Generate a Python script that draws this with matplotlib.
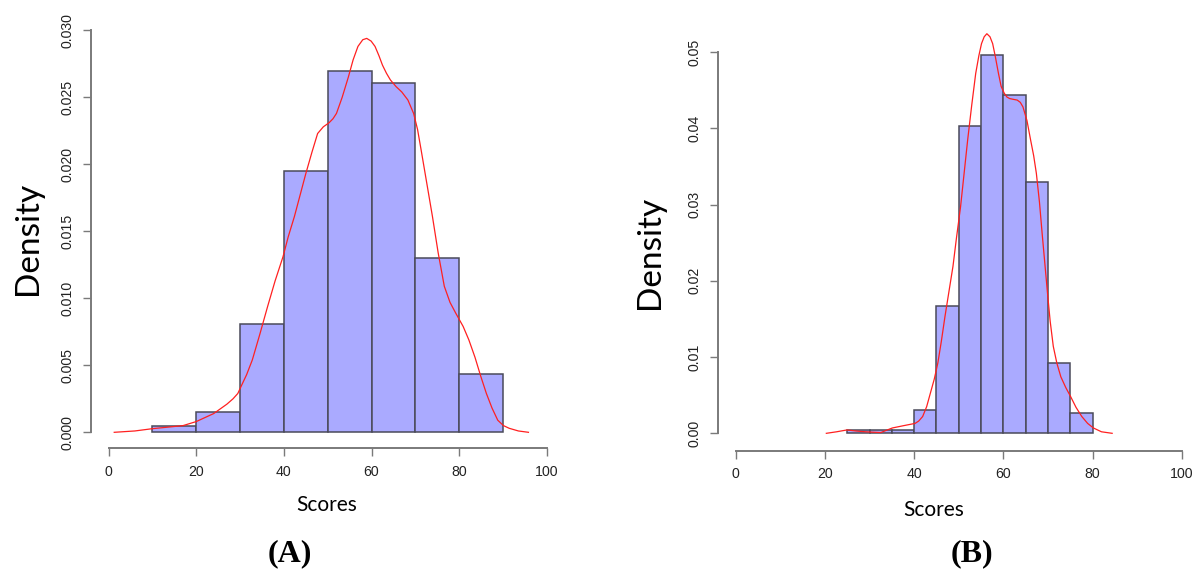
import matplotlib
matplotlib.use("Agg")
import matplotlib.pyplot as plt
import numpy as np

# ---------------- data ----------------
# Panel A histogram (bin edges and densities)
a_edges = [10, 20, 30, 40, 50, 60, 70, 80, 90]
a_density = [0.00047, 0.00154, 0.00812, 0.0195, 0.0270, 0.0261, 0.0130, 0.00438]
# Panel A kernel density curve
a_curve_x = [1.3, 6, 10, 14, 17, 20, 24, 27, 28.4, 29.5, 30.2, 31.5, 32.8, 34.5, 36.3, 38.0,
             39.8, 41.0, 42.4, 43.7, 45, 46.4, 47.7, 49.0, 50.3, 51.2, 52, 53.3, 54.7, 55.8,
             56.9, 58.0, 58.9, 59.9, 60.8, 61.7, 62.5, 63.4, 64.3, 65.6, 66.9, 68.3, 69.6,
             70.5, 71.3, 72.6, 73.9, 75.2, 76.6, 77.9, 79.2, 80.9, 82.2, 83.6, 84.9, 86.2,
             87.5, 88.8, 90.1, 91.4, 93.5, 95.8]
a_curve_y = [0.0, 0.0001, 0.00027, 0.0004, 0.0005, 0.0008, 0.0014, 0.0021, 0.0025, 0.0029,
             0.0034, 0.0043, 0.0054, 0.0073, 0.0094, 0.0113, 0.0131, 0.0146, 0.0161, 0.0177,
             0.0193, 0.0209, 0.0223, 0.0228, 0.0231, 0.0234, 0.0238, 0.0250, 0.0265, 0.0278,
             0.0288, 0.0293, 0.0294, 0.0292, 0.0288, 0.0281, 0.0274, 0.0268, 0.0263, 0.0258,
             0.0254, 0.0248, 0.0238, 0.0226, 0.0211, 0.0186, 0.0161, 0.0134, 0.0109, 0.0097,
             0.0089, 0.0079, 0.0069, 0.0056, 0.0042, 0.0029, 0.0018, 0.0009, 0.0005, 0.0003,
             0.0001, 0.0]

# Panel B histogram
b_edges = [25, 30, 35, 40, 45, 50, 55, 60, 65, 70, 75, 80]
b_density = [0.00044, 0.00044, 0.00044, 0.00306, 0.0167, 0.0403, 0.0496, 0.0443, 0.0329,
             0.0092, 0.0026]
# Panel B kernel density curve
b_curve_x = [20.3, 22.6, 24.9, 27.0, 29.1, 32.5, 35.1, 37.6, 40.2, 41.0, 41.9, 42.8, 43.6,
             44.5, 45.3, 46.1, 46.9, 47.8, 48.7, 49.5, 50.4, 51.2, 52.0, 52.9, 53.8, 54.5,
             55.1, 55.7, 56.3, 57.0, 57.6, 58.2, 58.9, 59.5, 60.2, 60.8, 61.4, 62.2, 63.1,
             63.8, 64.4, 65.3, 66.1, 66.8, 67.4, 68.1, 68.7, 69.3, 69.9, 70.5, 71.2, 72.0,
             72.9, 74.0, 75.1, 76.3, 77.6, 78.9, 80.2, 82.0, 84.4]
b_curve_y = [0.0, 0.0002, 0.00044, 0.0003, 0.0002, 0.0001, 0.0007, 0.001, 0.0013, 0.0016,
             0.0022, 0.0035, 0.0052, 0.0071, 0.0092, 0.0121, 0.0153, 0.0186, 0.0219, 0.0257,
             0.0297, 0.0341, 0.0385, 0.0430, 0.0472, 0.0495, 0.0511, 0.0520, 0.0524, 0.0520,
             0.0511, 0.0494, 0.0472, 0.0455, 0.0446, 0.0441, 0.0439, 0.0438, 0.0437, 0.0434,
             0.0428, 0.0410, 0.0385, 0.0364, 0.0341, 0.0303, 0.0262, 0.0223, 0.0184, 0.0147,
             0.0114, 0.0092, 0.0074, 0.0060, 0.0048, 0.0034, 0.0022, 0.0013, 0.0007, 0.0002,
             0.0]

a_yticks = [0.000, 0.005, 0.010, 0.015, 0.020, 0.025, 0.030]
a_ytick_labels = ["0.000", "0.005", "0.010", "0.015", "0.020", "0.025", "0.030"]
b_yticks = [0.00, 0.01, 0.02, 0.03, 0.04, 0.05]
b_ytick_labels = ["0.00", "0.01", "0.02", "0.03", "0.04", "0.05"]
xticks = [0, 20, 40, 60, 80, 100]
xtick_labels = ["0", "20", "40", "60", "80", "100"]

# ---------------- figure ----------------
W, H = 1195, 573
fig = plt.figure(figsize=(W / 100, H / 100), dpi=100)

def px_axes(left, right, top, bottom):
    return fig.add_axes([left / W, 1 - bottom / H, (right - left) / W, (bottom - top) / H])

FILL = "#AAAAFF"
EDGE = "#4a4a5a"
AXC = "#7a7a7a"

def style(ax, yticks, ylabels, ybound):
    for s in ["top", "right"]:
        ax.spines[s].set_visible(False)
    ax.spines["left"].set_bounds(0, ybound)
    ax.spines["bottom"].set_bounds(0, 100)
    ax.spines["left"].set_color(AXC)
    ax.spines["bottom"].set_color(AXC)
    ax.spines["left"].set_linewidth(1.4)
    ax.spines["bottom"].set_linewidth(1.4)
    ax.set_xticks(xticks)
    ax.set_xticklabels(xtick_labels, fontsize=10.2, family="Liberation Sans", color="#222222")
    ax.set_yticks(yticks)
    ax.set_yticklabels(ylabels, fontsize=10.2, family="Liberation Sans", color="#222222",
                       rotation=90, va="center")
    ax.tick_params(axis="both", length=5.8, width=1.0, color=AXC)
    ax.tick_params(axis="x", pad=6)
    ax.tick_params(axis="y", pad=6)
    ax.patch.set_alpha(0)

# Panel A
axA = px_axes(91, 564.4, 14, 448.3)
axA.set_xlim(-4, 104)
axA.set_ylim(-0.001194, 0.03122)
axA.bar(a_edges[:-1], a_density, width=np.diff(a_edges), align="edge",
        color=FILL, edgecolor=EDGE, linewidth=1.1)
axA.plot(a_curve_x, a_curve_y, color="#ff2020", lw=0.9)
style(axA, a_yticks, a_ytick_labels, 0.030)

# Panel B
axB = px_axes(718, 1195, 20, 450.7)
axB.set_xlim(-4, (1195 - 735.7) / 4.46)
axB.set_ylim(-0.00228, 0.0542)
axB.bar(b_edges[:-1], b_density, width=np.diff(b_edges), align="edge",
        color=FILL, edgecolor=EDGE, linewidth=1.1)
axB.plot(b_curve_x, b_curve_y, color="#ff2020", lw=0.9)
style(axB, b_yticks, b_ytick_labels, 0.05)

# Labels
fig.text(28 / W, 1 - 238 / H, "Density", rotation=90, ha="center", va="center",
         fontsize=24, family="Lato")
fig.text(650 / W, 1 - 252 / H, "Density", rotation=90, ha="center", va="center",
         fontsize=24, family="Lato")
fig.text(327 / W, 1 - 505 / H, "Scores", ha="center", va="center", fontsize=15, family="Lato")
fig.text(934 / W, 1 - 510 / H, "Scores", ha="center", va="center", fontsize=15, family="Lato")
fig.text(290 / W, 1 - 554 / H, "(A)", ha="center", va="center", fontsize=23,
         family="Liberation Serif", fontweight="bold")
fig.text(972 / W, 1 - 554 / H, "(B)", ha="center", va="center", fontsize=23,
         family="Liberation Serif", fontweight="bold")

fig.savefig("out.png", dpi=100)
